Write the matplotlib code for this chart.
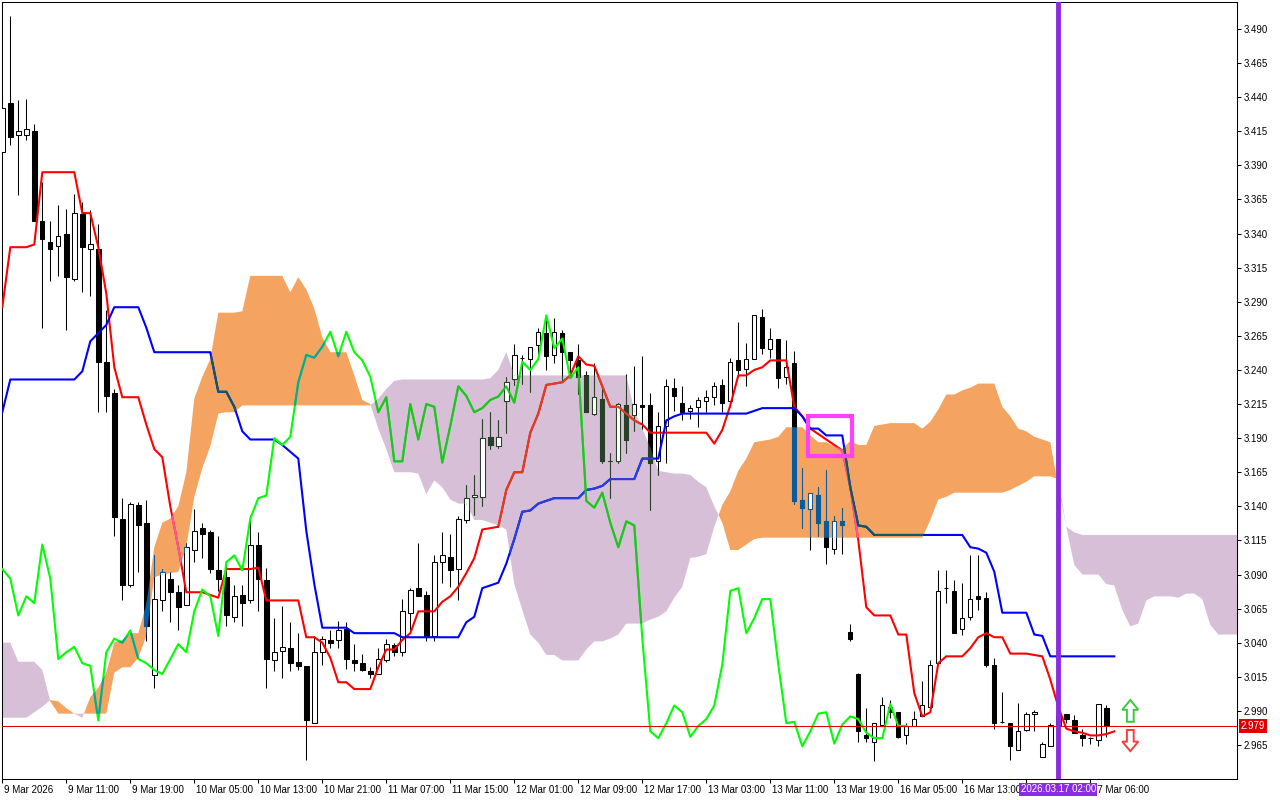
import matplotlib
matplotlib.use("Agg")
import matplotlib.pyplot as plt
import numpy as np
from matplotlib.colors import to_rgb
from matplotlib.patches import FancyArrow, Rectangle
from matplotlib.path import Path
from matplotlib.transforms import ScaledTranslation

# H1 candles, 9 Mar 2026 .. 17 Mar 2026
opens = [3.400, 3.436, 3.412, 3.412, 3.415, 3.349, 3.334, 3.331, 3.340, 3.307,
         3.354, 3.329, 3.329, 3.246, 3.223, 3.131, 3.082, 3.141, 3.128, 3.016,
         3.071, 3.087, 3.077, 3.068, 3.108, 3.124, 3.121, 3.093, 3.088, 3.059,
         3.075, 3.071, 3.112, 3.086, 3.027, 3.034, 3.036, 3.026, 3.023, 2.981,
         3.033, 3.042, 3.042, 3.050, 3.027, 3.025, 3.019, 3.017, 3.027, 3.038,
         3.033, 3.062, 3.080, 3.075, 3.045, 3.099, 3.103, 3.094, 3.130, 3.147,
         3.147, 3.191, 3.184, 3.217, 3.233, 3.249, 3.248, 3.258, 3.267, 3.251,
         3.267, 3.253, 3.247, 3.236, 3.208, 3.219, 3.173, 3.173, 3.214, 3.207,
         3.214, 3.214, 3.173, 3.199, 3.227, 3.216, 3.210, 3.213, 3.217, 3.220,
         3.229, 3.217, 3.247, 3.241, 3.248, 3.279, 3.255, 3.263, 3.235, 3.245,
         3.145, 3.138, 3.148, 3.129, 3.109, 3.129, 3.048, 3.017, 2.972, 2.967,
         2.980, 2.993, 2.989, 2.972, 2.979, 2.986, 2.993, 3.025, 3.080, 3.078,
         3.050, 3.059, 3.074, 3.073, 3.024, 2.982, 2.981, 2.961, 2.976, 2.988,
         2.956, 2.964, 2.980, 2.988, 2.983, 2.972, 2.970, 2.969, 2.992, 2.979]
highs = [3.440, 3.4995, 3.438, 3.439, 3.420, 3.378, 3.349, 3.361, 3.358, 3.369,
         3.363, 3.357, 3.347, 3.284, 3.226, 3.146, 3.143, 3.143, 3.145, 3.104,
         3.094, 3.092, 3.082, 3.113, 3.138, 3.128, 3.123, 3.118, 3.099, 3.082,
         3.082, 3.134, 3.121, 3.095, 3.058, 3.067, 3.055, 3.047, 3.023, 3.045,
         3.045, 3.049, 3.056, 3.055, 3.039, 3.032, 3.022, 3.036, 3.043, 3.040,
         3.072, 3.080, 3.113, 3.078, 3.104, 3.121, 3.120, 3.133, 3.156, 3.163,
         3.204, 3.209, 3.203, 3.235, 3.259, 3.251, 3.257, 3.271, 3.279, 3.278,
         3.269, 3.253, 3.259, 3.239, 3.245, 3.228, 3.179, 3.216, 3.237, 3.243,
         3.250, 3.223, 3.209, 3.233, 3.234, 3.228, 3.214, 3.220, 3.225, 3.231,
         3.233, 3.249, 3.275, 3.260, 3.280, 3.285, 3.271, 3.263, 3.262, 3.254,
         3.168, 3.150, 3.154, 3.167, 3.133, 3.139, 3.054, 3.018, 2.992, 2.981,
         3.000, 2.998, 2.989, 2.981, 2.990, 3.012, 3.027, 3.093, 3.093, 3.086,
         3.084, 3.104, 3.104, 3.077, 3.029, 3.004, 2.981, 2.996, 2.989, 2.991,
         2.967, 2.981, 2.990, 2.988, 2.987, 2.977, 2.971, 2.995, 2.994, 2.979]
lows = [3.395, 3.405, 3.368, 3.4085, 3.349, 3.271, 3.305, 3.309, 3.269, 3.305,
        3.297, 3.294, 3.209, 3.209, 3.118, 3.071, 3.081, 3.092, 3.041, 3.007,
        3.063, 3.055, 3.049, 3.068, 3.099, 3.102, 3.091, 3.078, 3.052, 3.055,
        3.052, 3.069, 3.063, 3.007, 3.019, 3.014, 3.019, 3.020, 2.954, 2.981,
        3.024, 3.036, 3.036, 3.021, 3.019, 3.019, 3.014, 3.017, 3.026, 3.030,
        3.030, 3.049, 3.074, 3.041, 3.041, 3.084, 3.081, 3.071, 3.128, 3.134,
        3.140, 3.182, 3.183, 3.194, 3.229, 3.230, 3.224, 3.252, 3.240, 3.245,
        3.231, 3.236, 3.222, 3.209, 3.207, 3.172, 3.146, 3.172, 3.179, 3.195,
        3.197, 3.137, 3.163, 3.172, 3.210, 3.203, 3.204, 3.198, 3.209, 3.214,
        3.209, 3.213, 3.235, 3.228, 3.248, 3.252, 3.249, 3.227, 3.230, 3.142,
        3.124, 3.108, 3.118, 3.098, 3.105, 3.105, 3.041, 2.967, 2.967, 2.953,
        2.980, 2.985, 2.970, 2.966, 2.979, 2.986, 2.993, 3.025, 3.069, 3.047,
        3.046, 3.057, 3.064, 3.022, 2.977, 2.981, 2.954, 2.961, 2.975, 2.975,
        2.956, 2.964, 2.975, 2.981, 2.974, 2.964, 2.966, 2.964, 2.971, 2.979]
closes = [3.432, 3.411, 3.415, 3.4165, 3.349, 3.336, 3.329, 3.338, 3.308, 3.355,
          3.330, 3.332, 3.246, 3.221, 3.132, 3.082, 3.142, 3.126, 3.052, 3.072,
          3.092, 3.077, 3.066, 3.110, 3.122, 3.120, 3.094, 3.087, 3.060, 3.074,
          3.069, 3.112, 3.087, 3.028, 3.033, 3.037, 3.025, 3.023, 2.983, 3.033,
          3.043, 3.040, 3.049, 3.028, 3.025, 3.020, 3.017, 3.028, 3.039, 3.033,
          3.063, 3.079, 3.074, 3.045, 3.099, 3.104, 3.093, 3.131, 3.146, 3.148,
          3.190, 3.185, 3.191, 3.231, 3.251, 3.249, 3.257, 3.268, 3.250, 3.268,
          3.253, 3.247, 3.235, 3.209, 3.220, 3.173, 3.173, 3.215, 3.189, 3.215,
          3.213, 3.172, 3.199, 3.228, 3.221, 3.209, 3.212, 3.218, 3.2205, 3.228,
          3.216, 3.246, 3.240, 3.248, 3.280, 3.256, 3.263, 3.234, 3.242, 3.144,
          3.139, 3.150, 3.128, 3.110, 3.129, 3.126, 3.043, 2.975, 2.970, 2.981,
          2.994, 2.989, 2.971, 2.979, 2.984, 2.994, 3.024, 3.078, 3.080, 3.047,
          3.058, 3.072, 3.072, 3.024, 2.981, 2.982, 2.964, 2.975, 2.988, 2.989,
          2.966, 2.980, 2.986, 2.984, 2.974, 2.970, 2.970, 2.995, 2.979, 2.979]

# Ichimoku lines
tenkan = [3.286, 3.330, 3.330, 3.330, 3.332, 3.385, 3.385, 3.385, 3.385, 3.385,
          3.355, 3.355, 3.330, 3.296, 3.242, 3.220, 3.220, 3.220, 3.200, 3.182,
          3.176, 3.140, 3.110, 3.077, 3.077, 3.077, 3.075, 3.073, 3.094, 3.094,
          3.094, 3.094, 3.095, 3.071, 3.071, 3.071, 3.071, 3.071, 3.044, 3.044,
          3.040, 3.029, 3.011, 3.011, 3.006, 3.006, 3.006, 3.022, 3.035, 3.035,
          3.042, 3.047, 3.063, 3.063, 3.063, 3.070, 3.074, 3.081, 3.091, 3.102,
          3.123, 3.124, 3.125, 3.152, 3.165, 3.165, 3.194, 3.208, 3.229, 3.230,
          3.231, 3.236, 3.250, 3.244, 3.243, 3.228, 3.213, 3.213, 3.208, 3.203,
          3.200, 3.194, 3.194, 3.194, 3.194, 3.194, 3.194, 3.194, 3.194, 3.186,
          3.196, 3.214, 3.236, 3.236, 3.240, 3.242, 3.247, 3.247, 3.247, 3.213,
          3.206, 3.197, 3.193, 3.189, 3.185, 3.181, 3.154, 3.115, 3.066, 3.060,
          3.060, 3.060, 3.046, 3.046, 3.003, 2.986, 2.989, 3.025, 3.030, 3.030,
          3.030, 3.036, 3.044, 3.047, 3.044, 3.044, 3.032, 3.032, 3.032, 3.031,
          3.030, 3.013, 2.993, 2.977, 2.975, 2.974, 2.972, 2.972, 2.973, 2.975]
kijun = [3.209, 3.233, 3.233, 3.233, 3.233, 3.233, 3.233, 3.233, 3.233, 3.233,
         3.239, 3.261, 3.267, 3.273, 3.286, 3.286, 3.286, 3.286, 3.271, 3.253,
         3.253, 3.253, 3.253, 3.253, 3.253, 3.253, 3.253, 3.224, 3.224, 3.213,
         3.195, 3.189, 3.189, 3.189, 3.189, 3.185, 3.180, 3.175, 3.122, 3.083,
         3.051, 3.051, 3.051, 3.051, 3.047, 3.047, 3.047, 3.047, 3.047, 3.047,
         3.044, 3.044, 3.044, 3.044, 3.044, 3.044, 3.044, 3.044, 3.055, 3.059,
         3.080, 3.082, 3.084, 3.098, 3.116, 3.136, 3.137, 3.142, 3.144, 3.146,
         3.146, 3.146, 3.146, 3.152, 3.153, 3.155, 3.160, 3.160, 3.160, 3.160,
         3.175, 3.175, 3.175, 3.203, 3.206, 3.208, 3.208, 3.208, 3.208, 3.208,
         3.208, 3.208, 3.208, 3.208, 3.210, 3.212, 3.212, 3.212, 3.212, 3.212,
         3.206, 3.197, 3.197, 3.192, 3.192, 3.192, 3.154, 3.126, 3.125, 3.119,
         3.119, 3.119, 3.119, 3.119, 3.119, 3.119, 3.119, 3.119, 3.119, 3.119,
         3.119, 3.110, 3.109, 3.106, 3.092, 3.062, 3.062, 3.062, 3.062, 3.046,
         3.045, 3.030, 3.030, 3.030, 3.030, 3.030, 3.030, 3.030, 3.030, 3.030]
span_a = [2.985, 2.985, 2.985, 2.985, 2.989, 2.993, 2.998, 2.997, 2.992, 2.988,
          2.985, 3.000, 3.007, 3.018, 3.040, 3.042, 3.047, 3.047, 3.068, 3.110,
          3.128, 3.131, 3.140, 3.165, 3.219, 3.235, 3.248, 3.282, 3.282, 3.282,
          3.283, 3.309, 3.309, 3.309, 3.309, 3.309, 3.297, 3.308, 3.299, 3.285,
          3.264, 3.253, 3.253, 3.253, 3.236, 3.218, 3.215, 3.197, 3.182, 3.165,
          3.165, 3.165, 3.164, 3.149, 3.159, 3.154, 3.145, 3.142, 3.142, 3.130,
          3.130, 3.128, 3.126, 3.123, 3.083, 3.064, 3.046, 3.040, 3.031, 3.031,
          3.027, 3.027, 3.027, 3.035, 3.041, 3.041, 3.043, 3.046, 3.054, 3.054,
          3.054, 3.057, 3.059, 3.063, 3.073, 3.081, 3.102, 3.103, 3.105, 3.125,
          3.141, 3.151, 3.166, 3.175, 3.187, 3.188, 3.189, 3.191, 3.198, 3.198,
          3.198, 3.192, 3.187, 3.187, 3.184, 3.182, 3.188, 3.185, 3.185, 3.199,
          3.200, 3.201, 3.201, 3.201, 3.201, 3.197, 3.202, 3.211, 3.222, 3.222,
          3.225, 3.227, 3.230, 3.230, 3.230, 3.213, 3.206, 3.197, 3.195, 3.191,
          3.189, 3.187, 3.154, 3.125, 3.097, 3.090, 3.090, 3.090, 3.083, 3.082,
          3.064, 3.052, 3.054, 3.071, 3.074, 3.074, 3.074, 3.073, 3.076, 3.076,
          3.072, 3.053, 3.046, 3.046, 3.046, 3.046]
span_b = [3.040, 3.040, 3.026, 3.026, 3.026, 3.020, 2.997, 2.988, 2.988, 2.988,
          2.988, 2.988, 2.988, 2.988, 3.018, 3.022, 3.022, 3.029, 3.045, 3.088,
          3.090, 3.091, 3.092, 3.110, 3.147, 3.168, 3.184, 3.208, 3.209, 3.209,
          3.214, 3.214, 3.214, 3.214, 3.214, 3.214, 3.214, 3.214, 3.214, 3.214,
          3.214, 3.214, 3.214, 3.214, 3.214, 3.214, 3.214, 3.219, 3.226, 3.232,
          3.233, 3.233, 3.233, 3.233, 3.233, 3.233, 3.233, 3.233, 3.233, 3.233,
          3.233, 3.234, 3.240, 3.253, 3.236, 3.236, 3.236, 3.236, 3.236, 3.236,
          3.236, 3.236, 3.236, 3.236, 3.236, 3.236, 3.236, 3.236, 3.236, 3.210,
          3.197, 3.183, 3.166, 3.165, 3.164, 3.164, 3.163, 3.158, 3.154, 3.140,
          3.128, 3.108, 3.108, 3.112, 3.116, 3.117, 3.117, 3.117, 3.117, 3.117,
          3.117, 3.117, 3.117, 3.117, 3.117, 3.117, 3.117, 3.117, 3.117, 3.117,
          3.117, 3.117, 3.117, 3.117, 3.117, 3.117, 3.130, 3.145, 3.147, 3.150,
          3.150, 3.150, 3.150, 3.150, 3.150, 3.150, 3.152, 3.155, 3.158, 3.162,
          3.162, 3.162, 3.160, 3.125, 3.121, 3.119, 3.119, 3.119, 3.119, 3.119,
          3.119, 3.119, 3.119, 3.119, 3.119, 3.119, 3.119, 3.119, 3.119, 3.119,
          3.119, 3.119, 3.119, 3.119, 3.119, 3.119]

# the 16 Mar 21:00 tick sits under the vertical-line date tag, so its text is not shown
time_labels = ["9 Mar 2026", "9 Mar 11:00", "9 Mar 19:00", "10 Mar 05:00", "10 Mar 13:00",
               "10 Mar 21:00", "11 Mar 07:00", "11 Mar 15:00", "12 Mar 01:00", "12 Mar 09:00",
               "12 Mar 17:00", "13 Mar 03:00", "13 Mar 11:00", "13 Mar 19:00", "16 Mar 05:00",
               "16 Mar 13:00", "", "17 Mar 06:00"]
price_ticks = [2.965, 2.990, 3.015, 3.040, 3.065, 3.090, 3.115, 3.140, 3.165, 3.190, 3.215,
               3.240, 3.265, 3.290, 3.315, 3.340, 3.365, 3.390, 3.415, 3.440, 3.465, 3.490]

last_price = 2.979
marker_bar, marker_label = 132, "2026.03.17 02:00"
box_bars, box_prices = (100.7, 106.2), (3.177, 3.206)
signal_bar = 141
signal_up = (2.982, 2.998)      # tail, tip
signal_down = (2.976, 2.9605)

CHIKOU_SHIFT = 26
SANDY, THISTLE = "#F4A460", "#D8BFD8"

opens, highs, lows, closes = map(np.array, (opens, highs, lows, closes))
tenkan, kijun, span_a, span_b = map(np.array, (tenkan, kijun, span_a, span_b))
bars = np.arange(len(closes))
cloud_bars = np.arange(len(span_a))

plt.rcParams["font.family"] = ["Liberation Sans", "DejaVu Sans"]


def blended(colour, cloud):
    # the terminal paints over the cloud with an inverted xor, so mimic it
    c = [round(v * 255) for v in to_rgb(colour)]
    k = [255 - round(v * 255) for v in to_rgb(cloud)]
    return tuple((a ^ b) / 255 for a, b in zip(c, k))


def draw_layer(ax, cloud=None, clip=None, z=3.0):
    def col(c):
        return c if cloud is None else blended(c, cloud)

    def clipped(artist):
        if clip is not None:
            artist.set_clip_path(clip, ax.transData)

    ink = col("black")
    up = closes >= opens
    clipped(ax.vlines(bars, lows, highs, colors=[ink], linewidth=0.75, zorder=z))
    bodies = ax.bar(bars, np.abs(closes - opens), bottom=np.minimum(opens, closes), width=0.55,
                    color=["white" if u else ink for u in up], edgecolor=ink, linewidth=0.75,
                    zorder=z + 0.1)
    for patch in bodies:
        clipped(patch)
    series = ((bars, tenkan, "#FF0000"), (bars, kijun, "#0000FF"),
              (bars[:-CHIKOU_SHIFT], closes[CHIKOU_SHIFT:], "#00FF00"))
    for x, y, colour in series:
        line, = ax.plot(x, y, color=col(colour), linewidth=1.5, zorder=z + 0.2)
        clipped(line)


def hollow_arrow(ax, tail, tip, colour):
    ax.add_patch(FancyArrow(signal_bar, tail, 0, tip - tail, width=0.85, head_width=2.0,
                            head_length=abs(tip - tail) * 0.45, length_includes_head=True,
                            fill=False, edgecolor=colour, linewidth=1.4, zorder=8))


fig = plt.figure(figsize=(12.8, 8), dpi=100)
ax = fig.add_axes([2.3 / 1280, 21 / 800, 1235 / 1280, 776.7 / 800])

orange = ax.fill_between(cloud_bars, span_a, span_b, where=span_a >= span_b, interpolate=True,
                         color=SANDY, linewidth=0, zorder=1)
lilac = ax.fill_between(cloud_bars, span_a, span_b, where=span_b >= span_a, interpolate=True,
                        color=THISTLE, linewidth=0, zorder=1)

draw_layer(ax)
draw_layer(ax, SANDY, Path.make_compound_path(*orange.get_paths()), z=3.3)
draw_layer(ax, THISTLE, Path.make_compound_path(*lilac.get_paths()), z=3.6)

ax.axhline(last_price, color="#E00000", linewidth=0.75, zorder=5)
ax.axvline(marker_bar, color="#8A2BE2", linewidth=3.5, zorder=6)
ax.add_patch(Rectangle((box_bars[0], box_prices[0]), box_bars[1] - box_bars[0],
                       box_prices[1] - box_prices[0], fill=False, edgecolor="#FF40FF",
                       linewidth=3, zorder=7))
hollow_arrow(ax, *signal_up, "#3CC83C")
hollow_arrow(ax, *signal_down, "#FF3A3A")

ax.set_xlim(0, 1235 / 8)
ax.set_ylim(2.94006, 3.50958)

ax.set_xticks(bars[::8][:len(time_labels)])
ax.set_xticklabels(time_labels)
ax.set_yticks(price_ticks)
ax.set_yticklabels([f"{p:.3f}" for p in price_ticks])
ax.yaxis.tick_right()
ax.tick_params(axis="both", direction="out", length=3, width=0.75, pad=1.5, labelsize=7)
shift = ScaledTranslation(2 / 100, 0, fig.dpi_scale_trans)
for lbl in ax.get_xticklabels():
    lbl.set_horizontalalignment("left")
    lbl.set_transform(lbl.get_transform() + shift)
for spine in ax.spines.values():
    spine.set_linewidth(0.75)

ax.text(marker_bar, -0.0135, marker_label, transform=ax.get_xaxis_transform(), ha="center",
        va="center", fontsize=7, color="white", clip_on=False, zorder=10,
        bbox=dict(boxstyle="square,pad=0.15", fc="#8A2BE2", ec="none"))
ax.text(1.003, last_price, f"{last_price:.3f}", transform=ax.get_yaxis_transform(), ha="left",
        va="center", fontsize=7, color="white", clip_on=False, zorder=10,
        bbox=dict(boxstyle="square,pad=0.2", fc="#E00000", ec="none"))

fig.savefig("out.png", dpi=100, facecolor="white")
